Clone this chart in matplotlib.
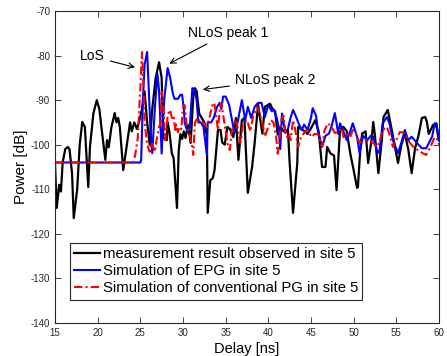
import matplotlib
matplotlib.use('Agg')
from matplotlib import pyplot as plt
from matplotlib import rcParams
from matplotlib.ticker import MultipleLocator

rcParams["font.family"] = ["Liberation Sans", "DejaVu Sans"]
rcParams["axes.unicode_minus"] = False

# measured power delay profile (site 5)
meas_t = [15.0, 15.2, 15.5, 15.7, 15.9, 16.2, 16.5, 16.7, 17.0, 17.2, 17.6, 17.9, 18.2, 18.5, 18.9,
          19.1, 19.5, 19.9, 20.2, 20.5, 20.9, 21.1, 21.3, 21.6, 22.0, 22.2, 22.4, 22.6, 23.0, 23.4,
          23.8, 24.0, 24.3, 24.6, 24.9, 25.2, 25.5, 25.8, 26.1, 26.4, 26.8, 27.2, 27.5, 27.7, 28.1,
          28.2, 28.4, 28.7, 28.9, 29.3, 29.5, 29.7, 29.9, 30.1, 30.3, 30.6, 30.9, 31.2, 31.4, 31.6,
          31.9, 32.2, 32.5, 32.8, 32.9, 33.2, 33.5, 33.7, 34.0, 34.1, 34.4, 34.6, 34.9, 35.2, 35.5,
          35.9, 36.2, 36.5, 36.9, 37.2, 37.6, 38.1, 38.4, 38.8, 39.3, 39.6, 40.2, 40.5, 40.8, 41.1,
          41.4, 41.8, 42.3, 42.5, 42.9, 43.4, 43.5, 43.9, 44.3, 44.6, 45.1, 45.5, 45.9, 46.3, 46.7,
          46.9, 47.3, 47.7, 48.0, 48.4, 48.8, 49.2, 49.6, 50.0, 50.4, 50.5, 50.8, 51.0, 51.4, 51.7,
          52.1, 52.3, 52.5, 52.9, 53.3, 53.5, 54.0, 54.4, 54.8, 55.2, 55.6, 56.0, 56.4, 56.8, 57.2,
          57.6, 58.0, 58.4, 58.6, 58.8, 59.3, 59.7, 59.9, 60.0]
meas_p = [-104, -114.2, -109, -110.5, -104, -101, -100.5, -101, -106.4, -116.5, -110, -100, -94.9, -96, -109.5,
          -100.5, -93, -90, -92, -97, -103.4, -99, -100.6, -96.2, -92.9, -95, -94, -96, -105.7, -100.3,
          -95, -97, -95, -96.5, -94.5, -92, -88, -95, -100, -92, -85, -81.5, -85, -98.5, -99,
          -95, -97, -102, -103, -114.2, -101.4, -97.6, -98.7, -97, -98.5, -95.6, -99.6, -89.5, -87.3, -88,
          -93, -94, -95, -97.8, -115.3, -108, -107.5, -105.7, -99, -96.7, -96.7, -99.5, -100, -96, -96.5,
          -98.3, -94, -103.4, -94.5, -94, -110.8, -105, -99.6, -91, -97.5, -91.5, -90.8, -92, -92.5, -97.7,
          -96, -97, -96.7, -104, -115.3, -104, -96, -96.5, -97, -97.6, -96, -94.5, -97, -105, -105,
          -100.5, -102, -102.4, -110.2, -96.7, -96, -97, -101.9, -105.7, -109.7, -109.5, -100.5, -97.5, -97, -104.1,
          -99, -94.9, -98, -106.4, -99, -93.8, -92.2, -96, -100, -104.1, -100, -97.5, -101, -106.4, -100.8,
          -98, -94, -93.8, -95, -97.6, -95.6, -95.2, -98.3, -99]

# simulation with EPG
epg_t = [15.0, 25.0, 25.1, 25.3, 25.5, 25.8, 26.0, 26.2, 26.4, 26.7, 27.0, 27.2, 27.5, 27.8, 28.2,
         28.5, 28.8, 29.0, 29.4, 29.7, 29.9, 30.1, 30.2, 30.5, 30.8, 31.1, 31.4, 31.6, 31.8, 32.1,
         32.4, 32.8, 32.9, 33.3, 33.6, 34.0, 34.3, 34.5, 34.7, 35.0, 35.4, 35.9, 36.0, 36.4, 36.9,
         37.3, 37.6, 38.0, 38.4, 38.8, 39.2, 39.6, 40.0, 40.4, 40.6, 41.0, 41.2, 41.4, 41.6, 42.0,
         42.3, 42.6, 42.9, 43.1, 43.5, 43.9, 44.2, 44.6, 45.0, 45.2, 45.6, 45.8, 46.3, 46.7, 47.1,
         47.4, 47.8, 48.2, 48.4, 48.8, 49.2, 49.6, 49.9, 50.4, 50.7, 51.1, 51.6, 52.0, 52.3, 52.7,
         53.0, 53.4, 53.9, 54.2, 54.6, 55.2, 55.6, 56.0, 56.4, 56.8, 57.4, 58.0, 58.5, 59.2, 59.5,
         59.8, 60.0]
epg_p = [-104, -104, -103.5, -90, -82, -79.2, -88, -97, -101.9, -92, -84, -88, -102, -90, -82.8,
         -85, -88.4, -89.7, -89.7, -88.8, -88.8, -92, -95, -97, -96, -87.3, -87.7, -90, -95, -95,
         -96, -102.3, -95, -95, -94, -91.5, -90.6, -92, -89.2, -89.2, -91, -96, -97.5, -95, -90,
         -94.5, -91.5, -94, -91.5, -90.6, -90.6, -93.8, -91, -92.5, -92, -94, -96, -101, -93, -97.4,
         -96.5, -94, -92.2, -93, -95, -96.7, -95.5, -96.7, -94, -91.8, -93.5, -96.7, -100.5, -98, -97.5,
         -96, -92.9, -97.6, -95.2, -97, -99, -97, -95.2, -98.2, -101.9, -98, -99, -98, -98.2, -101.2,
         -101.9, -95.2, -93.8, -95.2, -99, -101.9, -99.5, -96.7, -99, -98.2, -99.6, -100.8, -100.8, -98.2, -95.2,
         -96.5, -99]

# simulation with conventional PG
pg_t = [15.0, 24.2, 24.4, 24.7, 25.0, 25.2, 25.35, 25.5, 25.8, 26.1, 26.3, 26.5, 26.7, 26.9, 27.2,
        27.4, 27.5, 27.7, 27.9, 28.1, 28.2, 28.5, 28.7, 28.9, 29.1, 29.2, 29.4, 29.6, 29.8, 30.0,
        30.2, 30.4, 30.6, 30.8, 31.1, 31.2, 31.4, 31.7, 32.0, 32.2, 32.5, 32.8, 33.1, 33.5, 33.7,
        34.1, 34.3, 34.5, 35.0, 35.3, 35.5, 35.7, 36.1, 36.3, 36.7, 36.8, 37.0, 37.5, 37.9, 38.2,
        38.7, 39.0, 39.4, 39.6, 40.0, 40.3, 40.6, 40.9, 41.1, 41.3, 41.6, 41.8, 42.0, 42.2, 42.4,
        42.6, 42.9, 43.1, 43.5, 43.8, 44.1, 44.5, 45.1, 45.4, 45.8, 46.3, 46.6, 47.0, 47.4, 47.8,
        48.2, 48.6, 48.8, 49.2, 49.6, 49.9, 50.3, 50.7, 51.1, 51.6, 52.0, 52.3, 52.7, 53.0, 53.4,
        53.9, 54.3, 54.6, 55.0, 55.4, 55.8, 56.2, 56.6, 57.0, 57.5, 58.1, 58.5, 59.0, 59.5, 59.9,
        60.0]
pg_p = [-104, -104, -102.3, -98.5, -87.3, -79.2, -86, -95, -100, -101.6, -99.5, -100.5, -101.6, -99, -96,
        -95, -88.2, -91, -99, -96.2, -93.3, -92.2, -94, -93.5, -96.7, -95.5, -97.2, -96, -96.5, -91.8,
        -91.1, -95, -97, -97.8, -100.7, -102.3, -95, -94, -94.7, -94.5, -95.5, -96, -94, -90.6, -91,
        -96.7, -92.2, -90.6, -97, -100.5, -101.2, -97, -94.5, -95, -99.6, -99, -95.5, -94.5, -97, -93.8,
        -91.5, -93, -96, -98.2, -96, -94.5, -95, -98, -102, -99, -93.8, -93.5, -97, -98.3, -97.5,
        -99, -94.5, -96, -100.5, -98.5, -97.6, -96.7, -98.3, -97.6, -97.6, -100.5, -96.7, -95.2, -96, -97.4,
        -97, -96.3, -98.3, -97.6, -98.3, -96.7, -97.6, -99.6, -99, -99, -99.3, -99.6, -100.5, -99.6, -96.7,
        -96, -98.3, -100.5, -99, -97.2, -97.2, -98.3, -99.6, -100.5, -101.2, -101.9, -102.3, -100.5, -98.3, -99,
        -100]

fig = plt.figure(figsize=(4.47, 3.56), dpi=100)
ax = fig.add_axes([0.123, 0.093, 0.859, 0.876])

ax.plot(meas_t, meas_p, color='k', linewidth=1.6, label='measurement result observed in site 5')
ax.plot(epg_t, epg_p, color='b', linewidth=1.5, label='Simulation of EPG in site 5')
ax.plot(pg_t, pg_p, color='r', linestyle=(0, (4, 1.5, 1, 1.5)), linewidth=1.5,
        label='Simulation of conventional PG in site 5')

ax.set_xlim(15, 60)
ax.set_ylim(-140, -70)
ax.xaxis.set_major_locator(MultipleLocator(5))
ax.yaxis.set_major_locator(MultipleLocator(10))
ax.tick_params(axis='both', which='major', direction='in', top=True, right=True,
               labelsize=7, length=4, width=0.6, colors='#262626')
for axis in ['bottom', 'left', 'top', 'right']:
    ax.spines[axis].set_linewidth(0.8)
    ax.spines[axis].set_color('#262626')

ax.set_xlabel('Delay [ns]', fontsize=10.5, labelpad=3)
ax.set_ylabel('Power [dB]', fontsize=11, labelpad=2)

arrow = dict(arrowstyle='->', color='k', lw=0.8)
ax.annotate('LoS', xy=(24.7, -82.8), xytext=(19.4, -80.2), fontsize=10,
            ha='center', va='center', arrowprops=arrow)
ax.annotate('NLoS peak 1', xy=(28.1, -82.1), xytext=(30.6, -74.9), fontsize=10,
            ha='left', va='center', arrowprops=arrow)
ax.annotate('NLoS peak 2', xy=(32.0, -87.7), xytext=(36.1, -85.5), fontsize=10,
            ha='left', va='center', arrowprops=arrow)

leg = ax.legend(loc='lower left', bbox_to_anchor=(0.039, 0.074), borderaxespad=0,
                fontsize=10.7, fancybox=False, framealpha=1, edgecolor='#262626',
                handlelength=1.7, handletextpad=0.2, labelspacing=0.2, borderpad=0.3)
leg.get_frame().set_linewidth(0.8)

plt.savefig('out.png', dpi=100)
